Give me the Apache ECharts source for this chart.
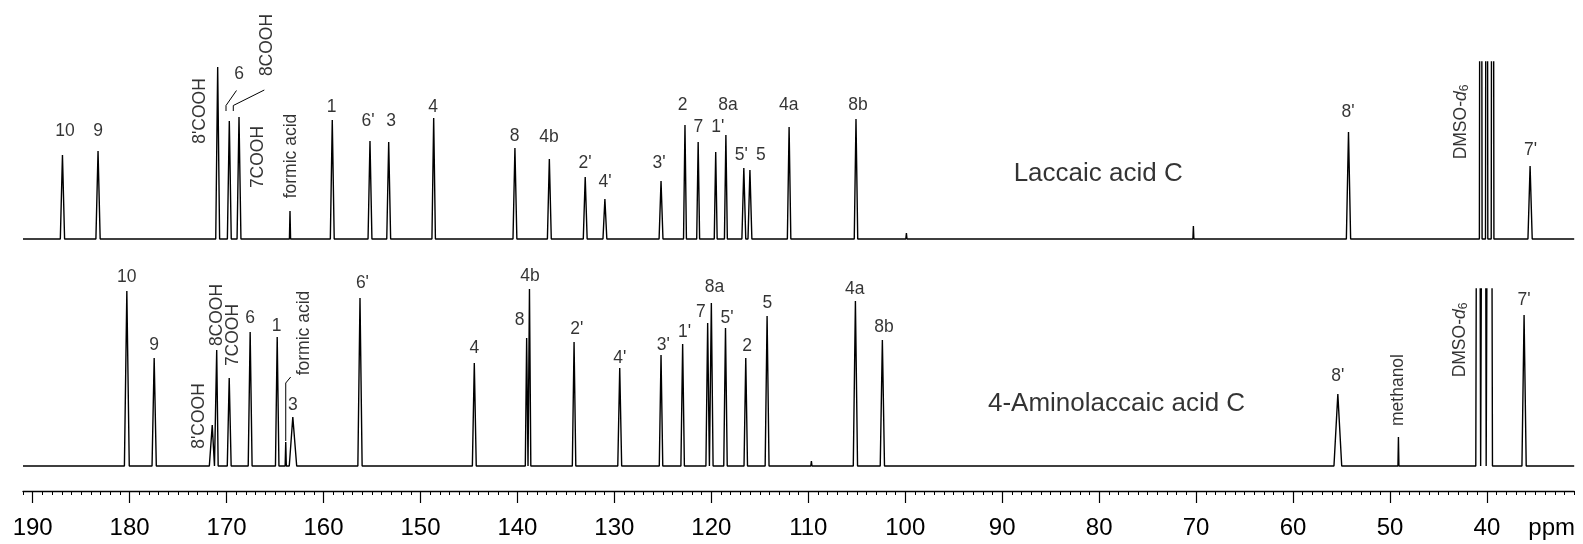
<!DOCTYPE html>
<html><head><meta charset="utf-8">
<script src="https://cdn.jsdelivr.net/npm/echarts@6/dist/echarts.min.js"></script>
<style>html,body{margin:0;padding:0;background:#fff}#c{width:1583px;height:544px}</style>
</head><body><div id="c"></div>
<script>
// ---- data ----
// peaks: [ppm, intensity, half-width at base (ppm)]
const peaksTop = [
  [186.93, 84, 0.22], [183.26, 88, 0.22], [170.92, 172, 0.2], [169.72, 118, 0.2],
  [168.72, 122, 0.2], [163.46, 28, 0.06], [159.10, 119, 0.2], [155.21, 98, 0.2],
  [153.28, 97, 0.2], [148.64, 121, 0.18], [140.26, 91, 0.2], [136.71, 80, 0.2],
  [133.01, 62, 0.2], [130.98, 40, 0.2], [125.19, 58, 0.2], [122.72, 114, 0.15],
  [121.36, 97, 0.15], [119.55, 87, 0.15], [118.50, 104, 0.15], [116.65, 71, 0.2],
  [116.02, 69, 0.2], [111.98, 112, 0.18], [105.08, 120, 0.18], [99.88, 6, 0.06],
  [70.28, 13, 0.05], [54.28, 107, 0.22], [40.64, 1000, 0.14], [40.03, 1000, 0.12],
  [39.42, 1000, 0.14], [35.55, 73, 0.22]
];
const peaksBottom = [
  [180.29, 175, 0.25], [177.47, 108, 0.22], [171.48, 41, 0.3], [171.02, 116, 0.15],
  [169.73, 88, 0.2], [167.57, 134, 0.2], [164.78, 129, 0.18], [163.90, 24, 0.06],
  [163.17, 49, 0.4], [156.24, 168, 0.22], [144.45, 103, 0.2], [139.05, 128, 0.14],
  [138.76, 177, 0.14], [134.16, 124, 0.18], [129.45, 98, 0.2], [125.19, 111, 0.18],
  [122.96, 122, 0.18], [120.38, 143, 0.18], [120.00, 163, 0.18], [118.54, 138, 0.18],
  [116.45, 108, 0.18], [114.25, 150, 0.2], [109.68, 5, 0.06], [105.14, 165, 0.22],
  [102.36, 126, 0.22], [55.38, 72, 0.4], [49.13, 29, 0.05], [40.90, 1000, 0.25],
  [40.28, 1000, 0.2], [39.68, 1000, 0.25], [36.17, 151, 0.22]
];
// peak labels: [text, ppm, intensity, rotation]
const labelsTop = [
  ['10', 186.67, 108, 0], ['9', 183.26, 108, 0], ["8'COOH", 172.74, 128, 90],
  ['6', 168.72, 165, 0], ['8COOH', 165.86, 194, 90], ['7COOH', 166.76, 82, 90],
  ['formic acid', 163.3, 83, 90], ['1', 159.18, 132, 0], ["6'", 155.41, 118, 0],
  ['3', 153.04, 118, 0], ['4', 148.71, 132, 0], ['8', 140.3, 103, 0],
  ['4b', 136.74, 102, 0], ["2'", 133.03, 76, 0], ["4'", 130.97, 57, 0],
  ["3'", 125.4, 76, 0], ['2', 122.97, 134, 0], ['7', 121.33, 112, 0],
  ["1'", 119.33, 112, 0], ['8a', 118.28, 134, 0], ["5'", 116.9, 84, 0],
  ['5', 114.88, 84, 0], ['4a', 112.01, 134, 0], ['8b', 104.87, 134, 0],
  ["8'", 54.33, 127, 0], ['DMSO-d6', 42.67, 117, 90], ["7'", 35.5, 89, 0]
];
const labelsBottom = [
  ['10', 180.29, 189, 0], ['9', 177.47, 121, 0], ["8'COOH", 172.8, 50, 90],
  ['8COOH', 170.95, 151, 90], ['7COOH', 169.31, 131, 90], ['6', 167.57, 148, 0],
  ['1', 164.85, 140, 0], ['formic acid', 161.99, 133, 90], ['3', 163.17, 61, 0],
  ["6'", 155.99, 183, 0], ['4', 144.45, 118, 0], ['8', 139.78, 146, 0],
  ['4b', 138.7, 190, 0], ["2'", 133.88, 137, 0], ["4'", 129.45, 108, 0],
  ["3'", 124.96, 121, 0], ["1'", 122.76, 134, 0], ['7', 121.08, 154, 0],
  ['8a', 119.68, 179, 0], ["5'", 118.37, 148, 0], ['2', 116.3, 120, 0],
  ['5', 114.21, 163, 0], ['4a', 105.21, 177, 0], ['8b', 102.19, 139, 0],
  ["8'", 55.38, 90, 0], ['methanol', 49.13, 76, 90], ['DMSO-d6', 42.78, 126, 90],
  ["7'", 36.17, 166, 0]
];
// leader lines: polylines in [ppm, intensity]
const leadersTop = [
  [[170.06, 128], [170.06, 133.5], [168.98, 148.5]],
  [[169.31, 128], [169.31, 133.5], [166.11, 149]]
];
const leadersBottom = [
  [[163.9, 25], [163.9, 83], [163.39, 89]]
];
const sampleNames = ['Laccaic acid C', '4-Aminolaccaic acid C'];
const sampleNameAnchors = [[88.82, 65], [91.47, 62]];
const majorTicks = [190, 180, 170, 160, 150, 140, 130, 120, 110, 100, 90, 80, 70, 60, 50, 40];
const axisUnit = 'ppm';
const ppmMax = 191, ppmMin = 31;

// ---- rendering ----
const FONT = '"Liberation Sans", Arial, sans-serif';
const INK = '#000';
function buildTrace(peaks) {
  const s = peaks.slice().sort((a, b) => b[0] - a[0]);
  const pts = [[ppmMax, 0]];
  for (let i = 0; i < s.length; i++) {
    const [p, h, w] = s[i];
    let l = p + w, r = p - w;
    if (i > 0) l = Math.min(l, (s[i - 1][0] + p) / 2);
    if (i < s.length - 1) r = Math.max(r, (s[i + 1][0] + p) / 2);
    pts.push([l, 0], [p, h], [r, 0]);
  }
  pts.push([ppmMin, 0]);
  return pts;
}
function labelItems(list) {
  return list.map(([t, x, y, rot]) => ({ value: [x, y], name: t, label: { rotate: rot } }));
}
const rich = {
  i: { fontStyle: 'italic', fontSize: 17.5, fontFamily: FONT, color: INK },
  s: { fontSize: 12, fontFamily: FONT, color: INK, padding: [7, 0, 0, 0] }
};
function labelSeries(list, idx) {
  return {
    type: 'scatter', xAxisIndex: idx, yAxisIndex: idx, symbolSize: 0, clip: false,
    silent: true, data: labelItems(list),
    label: {
      show: true, position: 'inside', color: INK, fontSize: 17.5, fontFamily: FONT,
      align: 'center', verticalAlign: 'middle',
      formatter: p => p.name === 'DMSO-d6' ? 'DMSO-{i|d}{s|6}' : p.name,
      rich: rich
    }
  };
}
function leaderSeries(list, idx) {
  return list.map(pts => ({
    type: 'line', xAxisIndex: idx, yAxisIndex: idx, data: pts, symbol: 'none',
    silent: true, lineStyle: { color: INK, width: 1 }
  }));
}
const gridL = 23, gridR = 8.8;
const option = {
  animation: false,
  backgroundColor: '#fff',
  grid: [
    { left: gridL, right: gridR, top: 62, height: 180 },
    { left: gridL, right: gridR, top: 289, height: 180 },
    { left: gridL, right: gridR, top: 471, height: 20 }
  ],
  xAxis: [
    { gridIndex: 0, type: 'value', min: ppmMin, max: ppmMax, inverse: true, show: false },
    { gridIndex: 1, type: 'value', min: ppmMin, max: ppmMax, inverse: true, show: false },
    { gridIndex: 2, type: 'value', min: ppmMin, max: ppmMax, inverse: true, position: 'bottom',
      axisLine: { show: true, onZero: false, lineStyle: { color: INK, width: 1.3 } },
      axisTick: { show: true, customValues: majorTicks, length: 12, lineStyle: { color: INK, width: 1.2 } },
      axisLabel: { show: true, customValues: majorTicks, fontSize: 24, fontFamily: FONT, color: INK, margin: 25 },
      splitLine: { show: false } },
    { gridIndex: 2, type: 'value', min: ppmMin, max: ppmMax, interval: 1, inverse: true, position: 'top',
      offset: -20,
      axisLine: { show: false },
      axisTick: { show: true, inside: true, length: 4, lineStyle: { color: INK, width: 1 } },
      axisLabel: { show: false }, splitLine: { show: false } }
  ],
  yAxis: [
    { gridIndex: 0, type: 'value', min: -3, max: 177, show: false },
    { gridIndex: 1, type: 'value', min: -3, max: 177, show: false },
    { gridIndex: 2, type: 'value', min: 0, max: 1, show: false }
  ],
  series: [
    { type: 'line', xAxisIndex: 0, yAxisIndex: 0, data: buildTrace(peaksTop), symbol: 'none',
      silent: true, lineStyle: { color: INK, width: 1.4 } },
    { type: 'line', xAxisIndex: 1, yAxisIndex: 1, data: buildTrace(peaksBottom), symbol: 'none',
      silent: true, lineStyle: { color: INK, width: 1.4 } },
    ...leaderSeries(leadersTop, 0),
    ...leaderSeries(leadersBottom, 1),
    labelSeries(labelsTop, 0),
    labelSeries(labelsBottom, 1),
    ...sampleNames.map((n, i) => ({
      type: 'scatter', xAxisIndex: i, yAxisIndex: i, symbolSize: 0, clip: false, silent: true,
      data: [{ value: sampleNameAnchors[i], name: n }],
      label: { show: true, position: 'inside', align: 'left', verticalAlign: 'middle',
        formatter: p => p.name, fontSize: 26, fontFamily: FONT, color: INK }
    }))
  ],
  graphic: [
    { type: 'text', x: 1551.7, y: 528, silent: true,
      style: { text: axisUnit, fontSize: 24, fontFamily: FONT, fill: INK, align: 'center', verticalAlign: 'middle' } }
  ]
};
const chart = echarts.init(document.getElementById('c'), null, { renderer: 'canvas' });
chart.setOption(option);
</script>
</body></html>
